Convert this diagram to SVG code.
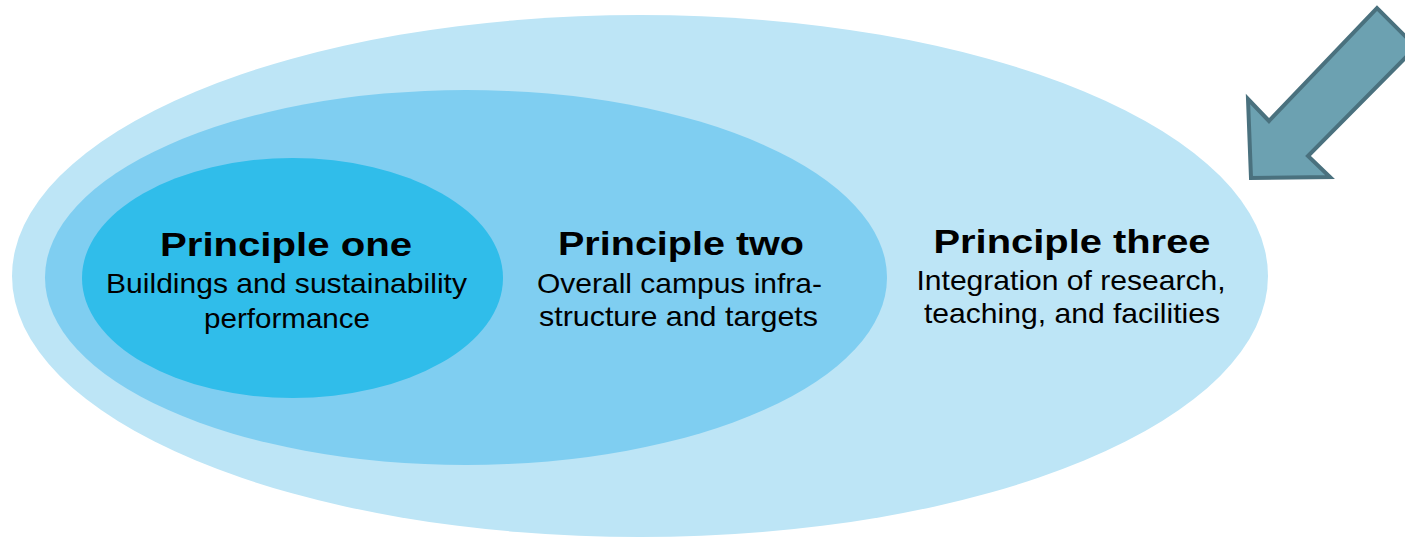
<svg xmlns="http://www.w3.org/2000/svg" width="1405" height="538" viewBox="0 0 1405 538">
<style>
.title{font-family:"Liberation Sans",Arial,sans-serif;font-weight:bold;font-size:34px;fill:#000;text-anchor:middle}
.body{font-family:"Liberation Sans",Arial,sans-serif;font-size:28px;fill:#000;text-anchor:middle}
.arrow{fill:#6CA1B1;stroke:#4A717E;stroke-width:4;stroke-linejoin:miter}
</style>
<rect width="1405" height="538" fill="#ffffff"/>
<g id="principle-three">
<ellipse cx="640" cy="276" rx="628" ry="261" fill="#BDE5F6"/>
<text class="title" x="1072" y="253" textLength="277" lengthAdjust="spacingAndGlyphs">Principle three</text>
<text class="body" x="1071" y="290" textLength="309" lengthAdjust="spacingAndGlyphs">Integration of research,</text>
<text class="body" x="1072" y="323" textLength="296" lengthAdjust="spacingAndGlyphs">teaching, and facilities</text>
</g>
<g id="principle-two">
<ellipse cx="466" cy="277.5" rx="421" ry="187.5" fill="#7FCEF1"/>
<text class="title" x="681" y="255" textLength="246" lengthAdjust="spacingAndGlyphs">Principle two</text>
<text class="body" x="679.5" y="293" textLength="285" lengthAdjust="spacingAndGlyphs">Overall campus infra-</text>
<text class="body" x="678.5" y="326" textLength="279" lengthAdjust="spacingAndGlyphs">structure and targets</text>
</g>
<g id="principle-one">
<ellipse cx="292.5" cy="278" rx="210.5" ry="120" fill="#30BDEA"/>
<text class="title" x="286" y="256" textLength="252" lengthAdjust="spacingAndGlyphs">Principle one</text>
<text class="body" x="286.5" y="293" textLength="361" lengthAdjust="spacingAndGlyphs">Buildings and sustainability</text>
<text class="body" x="287" y="328" textLength="166" lengthAdjust="spacingAndGlyphs">performance</text>
</g>
<g id="connectors">
<polygon class="arrow" points="1251,178 1248,99 1269,121 1377,8 1416,47 1308,156 1330,177"/>
</g>
</svg>
